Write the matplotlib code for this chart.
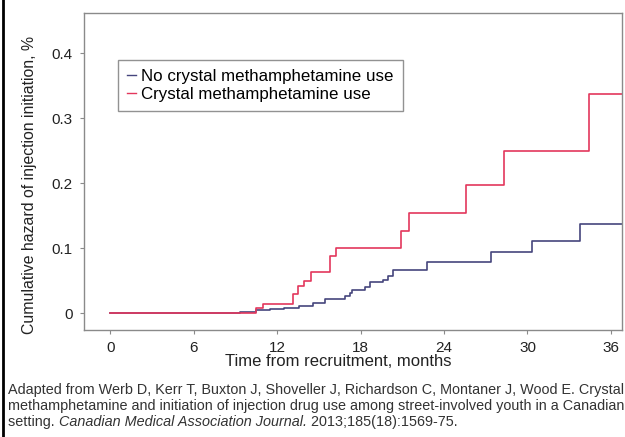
import matplotlib.pyplot as plt
from matplotlib.lines import Line2D

# step times (months) and cumulative hazard
no_cm_t = [0, 9.3, 10.5, 11.5, 12.5, 13.6, 14.6, 15.4, 16.9, 17.2, 17.4, 18.3,
           18.7, 19.6, 20.0, 20.3, 22.8, 27.4, 30.3, 33.8, 36.8]
no_cm_y = [0, 0.002, 0.004, 0.006, 0.008, 0.011, 0.016, 0.022, 0.026, 0.031,
           0.035, 0.040, 0.048, 0.051, 0.057, 0.066, 0.079, 0.094, 0.111,
           0.137, 0.137]

cm_t = [0, 10.5, 11.0, 13.1, 13.5, 13.9, 14.4, 15.8, 16.2, 20.9, 21.5, 25.6,
        28.3, 34.4, 36.8]
cm_y = [0, 0.008, 0.014, 0.029, 0.042, 0.050, 0.063, 0.088, 0.100, 0.127,
        0.154, 0.197, 0.249, 0.337, 0.337]

x_ticks = [0, 6, 12, 18, 24, 30, 36]
y_ticks = [0, 0.1, 0.2, 0.3, 0.4]
y_tick_labels = ["0", "0.1", "0.2", "0.3", "0.4"]

labels = ["No crystal methamphetamine use", "Crystal methamphetamine use"]
source_lines = [
    [("Adapted from Werb D, Kerr T, Buxton J, Shoveller J, Richardson C, "
      "Montaner J, Wood E. Crystal", "normal")],
    [("methamphetamine and initiation of injection drug use among "
      "street-involved youth in a Canadian", "normal")],
    [("setting. ", "normal"), ("Canadian Medical Association Journal.", "italic"),
     (" 2013;185(18):1569-75.", "normal")],
]

blue = "#45457d"
red = "#e3375c"
sans = ["Liberation Sans", "DejaVu Sans"]

fig = plt.figure(figsize=(6.25, 4.37), dpi=100)
ax = fig.add_axes([0.1344, 0.2449, 0.8608, 0.7254])

ax.step(no_cm_t, no_cm_y, where="post", color=blue, lw=1.2)
ax.step(cm_t, cm_y, where="post", color=red, lw=1.2)

ax.set_xlim(-1.9, 36.8)
ax.set_ylim(-0.026, 0.462)
ax.set_xticks(x_ticks)
ax.set_yticks(y_ticks)
ax.set_yticklabels(y_tick_labels)
for s in ax.spines.values():
    s.set_color("#8a8a8a")
    s.set_linewidth(1.0)
ax.tick_params(colors="#8a8a8a", length=3, width=0.8, labelcolor="#222222",
               labelsize=11, pad=5)
for lab in ax.get_xticklabels() + ax.get_yticklabels():
    lab.set_family(sans)

fig.text(0.048, 0.577, "Cumulative hazard of injection initiation, %",
         rotation=90, ha="center", va="center", family=sans, fontsize=11.4,
         color="#222222")

handles = [Line2D([], [], color=blue, lw=1), Line2D([], [], color=red, lw=1)]
leg = ax.legend(handles, labels, loc="upper left", bbox_to_anchor=(0.063, 0.852),
                borderaxespad=0, prop={"family": sans, "size": 12.2},
                handlelength=0.5, handletextpad=0.3, fancybox=False,
                frameon=True, borderpad=0.55, labelspacing=0.15)
leg.get_frame().set_edgecolor("#777777")
leg.get_frame().set_linewidth(1.0)

fig.text(0.541, 0.172, "Time from recruitment, months", ha="center", va="center",
         family=sans, fontsize=12, color="#222222")

# source note, placed piece by piece so the italic journal name follows on
renderer = fig.canvas.get_renderer()
line_y = [0.108, 0.072, 0.035]
for pieces, y in zip(source_lines, line_y):
    x = 0.013
    for txt, style in pieces:
        t = fig.text(x, y, txt, family=sans, fontsize=10.35, style=style,
                     color="#333333", va="center")
        bb = t.get_window_extent(renderer)
        x += bb.width / fig.bbox.width

# left border of the original figure panel
fig.add_artist(Line2D([0.005, 0.005], [0, 1], color="black", lw=2,
                      transform=fig.transFigure))

fig.savefig("out.png", dpi=100)
